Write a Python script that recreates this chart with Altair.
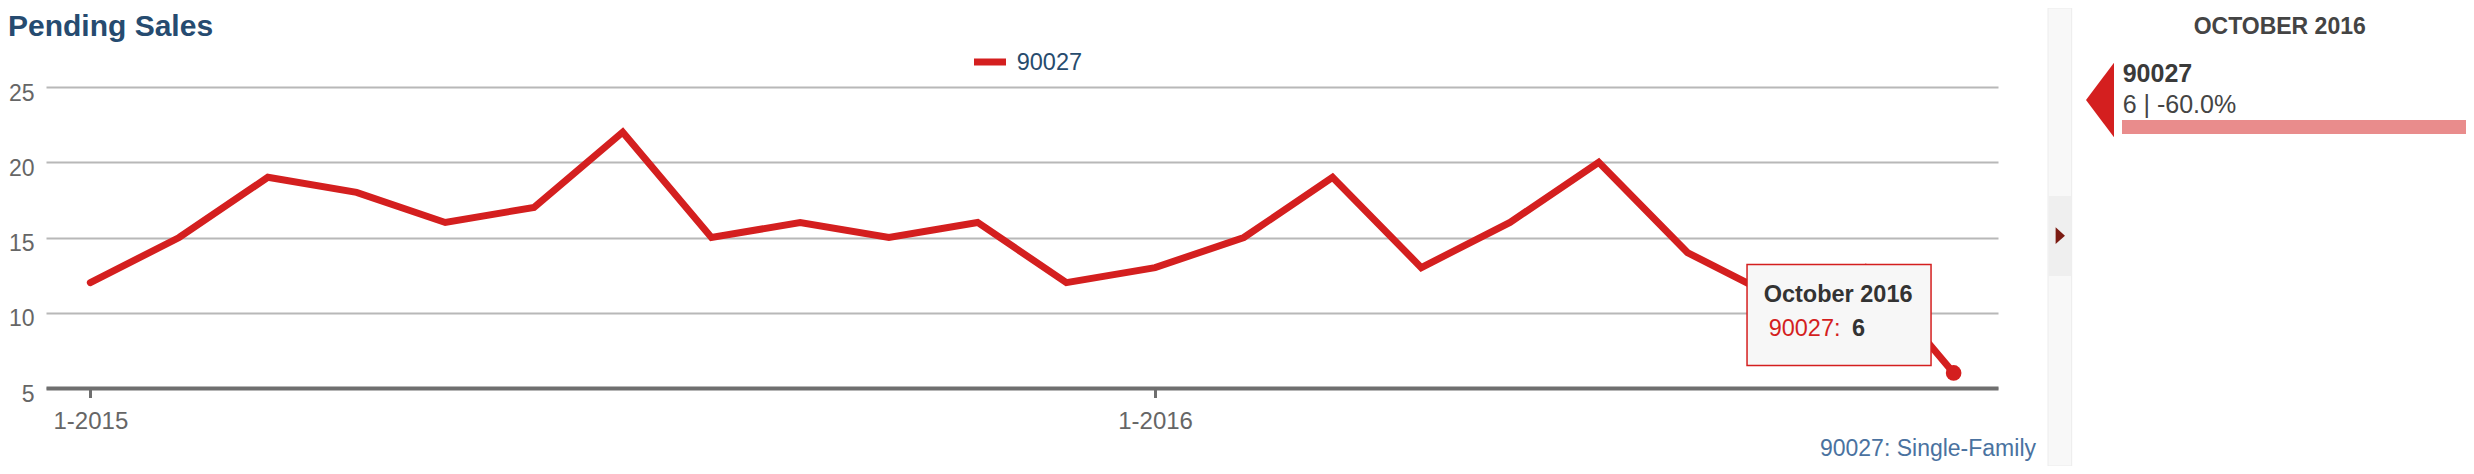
import altair as alt
import pandas as pd

# ---------------- data ----------------
TITLE = "Pending Sales"
SERIES = "90027"
CREDIT = "90027: Single-Family"
MONTHS = ["1-2015", "2-2015", "3-2015", "4-2015", "5-2015", "6-2015",
          "7-2015", "8-2015", "9-2015", "10-2015", "11-2015", "12-2015",
          "1-2016", "2-2016", "3-2016", "4-2016", "5-2016", "6-2016",
          "7-2016", "8-2016", "9-2016", "10-2016"]
VALUES = [12, 15, 19, 18, 16, 17, 22, 15, 16, 15, 16, 12,
          13, 15, 19, 13, 16, 20, 14, 11, 13, 6]
X_TICKS = ["1-2015", "1-2016"]
Y_TICKS = [5, 10, 15, 20, 25]
HOVER_MONTH = "10-2016"
HOVER_LABEL = "October 2016"
PANEL_TITLE = "OCTOBER 2016"

last_val = VALUES[-1]
prev_year = VALUES[-13]
change = (last_val - prev_year) / prev_year * 100
PANEL_LINE = f"{last_val} | {change:.1f}%"

df = pd.DataFrame({"month": MONTHS, "value": VALUES, "series": SERIES})
one = pd.DataFrame({"k": [0]})

RED = "#d41f1f"
FONT = "Liberation Sans"

x_enc = alt.X(
    "month:N", sort=MONTHS,
    scale=alt.Scale(type="point", padding=0.5),
    axis=alt.Axis(values=X_TICKS, labelAngle=0, title=None,
                  domainColor="#6f6f6f", domainWidth=4,
                  tickColor="#6f6f6f", tickWidth=3, tickSize=9.5,
                  labelPadding=11.5, labelFontSize=24, labelColor="#666666",
                  labelFont=FONT, grid=False, zindex=1),
)
y_enc = alt.Y(
    "value:Q",
    scale=alt.Scale(domain=[5, 25], nice=False, zero=False),
    axis=alt.Axis(values=Y_TICKS, title=None, domain=False, ticks=False,
                  tickSize=0, labelPadding=12, labelFontSize=23,
                  labelColor="#666666", labelFont=FONT,
                  labelBaseline="alphabetic", labelOffset=13,
                  grid=True, gridColor="#b8b8b8", gridWidth=2),
)

line = alt.Chart(df).mark_line(
    color=RED, strokeWidth=7, strokeCap="round", strokeJoin="miter"
).encode(x=x_enc, y=y_enc)

last = alt.Chart(df).transform_filter(alt.datum.month == HOVER_MONTH)

dot = last.mark_circle(size=245, color=RED, opacity=1).encode(x=x_enc, y=y_enc)

box = last.mark_rect(
    width=184, height=101, xOffset=-114.6, yOffset=-58,
    fill="#f7f7f7", stroke=RED, strokeWidth=1.5
).encode(x=x_enc, y=y_enc)

tip_title = last.mark_text(
    text=HOVER_LABEL, align="left", baseline="alphabetic", dx=-190, dy=-70.7,
    font=FONT, fontSize=23.5, fontWeight="bold", color="#333333"
).encode(x=x_enc, y=y_enc)

tip_series = last.mark_text(
    text=SERIES + ":", align="left", baseline="alphabetic", dx=-185, dy=-36.7,
    font=FONT, fontSize=23.5, color=RED
).encode(x=x_enc, y=y_enc)

tip_value = last.mark_text(
    align="left", baseline="alphabetic", dx=-101.6, dy=-36.7,
    font=FONT, fontSize=23.5, fontWeight="bold", color="#333333"
).encode(x=x_enc, y=y_enc, text="value:Q")

# ---------------- title / legend / credit ----------------
title = alt.Chart(one).mark_text(
    text=TITLE, align="left", baseline="alphabetic", font=FONT,
    fontSize=30, fontWeight="bold", color="#264b70"
).encode(x=alt.value(-38), y=alt.value(-51.5))

leg_sw = alt.Chart(one).mark_rule(color=RED, strokeWidth=7).encode(
    x=alt.value(928), x2=alt.value(960), y=alt.value(-25))
leg_tx = alt.Chart(one).mark_text(
    text=SERIES, align="left", baseline="alphabetic", font=FONT,
    fontSize=23.5, color="#274b6d"
).encode(x=alt.value(970.7), y=alt.value(-17))

credit = alt.Chart(one).mark_text(
    text=CREDIT, align="right", baseline="alphabetic", font=FONT,
    fontSize=23, color="#4a72a0"
).encode(x=alt.value(1990), y=alt.value(369))

# ---------------- right panel ----------------
strip = alt.Chart(one).mark_rect(fill="#f8f8f8", stroke="#ececec", strokeWidth=1).encode(
    x=alt.value(2002), x2=alt.value(2025.7), y=alt.value(-79), y2=alt.value(379))
strip_mid = alt.Chart(one).mark_rect(fill="#efefef").encode(
    x=alt.value(2002.5), x2=alt.value(2025.2), y=alt.value(109), y2=alt.value(189))
arrow = alt.Chart(one).mark_point(
    shape="M -0.56 -1 L 0.56 0 L -0.56 1 Z", filled=True, size=279,
    color="#7b1b12", opacity=1
).encode(x=alt.value(2014.3), y=alt.value(148.7))
big_tri = alt.Chart(one).mark_point(
    shape="M -0.375 0 L 0.375 -1 L 0.375 1 Z", filled=True, size=5565,
    color=RED, opacity=1
).encode(x=alt.value(2054), y=alt.value(13))
panel_title = alt.Chart(one).mark_text(
    text=PANEL_TITLE, align="center", baseline="alphabetic", font=FONT,
    fontSize=23, fontWeight="bold", color="#444444"
).encode(x=alt.value(2233.7), y=alt.value(-52.7))
panel_series = alt.Chart(one).mark_text(
    text=SERIES, align="left", baseline="alphabetic", font=FONT,
    fontSize=25, fontWeight="bold", color="#3a3a3a"
).encode(x=alt.value(2076.7), y=alt.value(-5.3))
panel_line = alt.Chart(one).mark_text(
    text=PANEL_LINE, align="left", baseline="alphabetic", font=FONT,
    fontSize=25, color="#444444"
).encode(x=alt.value(2076.7), y=alt.value(26.3))
pink = alt.Chart(one).mark_rect(fill="#e98c8c").encode(
    x=alt.value(2076), x2=alt.value(2420), y=alt.value(33), y2=alt.value(47))

chart = alt.layer(
    line, box, tip_title, tip_series, tip_value, dot,
    title, leg_sw, leg_tx, credit,
    strip, strip_mid, arrow, big_tri, panel_title, panel_series, panel_line, pink,
).properties(
    width=1952, height=301,
    padding={"left": 38, "top": 79, "right": 468, "bottom": 78},
    autosize=alt.AutoSizeParams(type="none"),
    background="white",
).configure_view(strokeWidth=0)

chart.save("out.html", embed_options={"renderer": "svg", "actions": False})
